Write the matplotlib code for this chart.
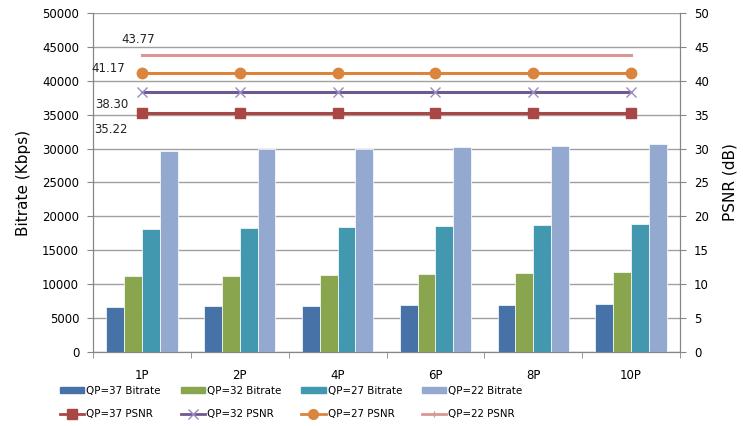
import matplotlib
matplotlib.use("Agg")
import matplotlib.pyplot as plt
from matplotlib.patches import Patch
from matplotlib.lines import Line2D
import numpy as np

categories = ["1P", "2P", "4P", "6P", "8P", "10P"]

# bitrate (Kbps) per QP
bitrate_qp37 = [6700, 6800, 6800, 7000, 7000, 7150]
bitrate_qp32 = [11150, 11200, 11300, 11480, 11630, 11820]
bitrate_qp27 = [18100, 18230, 18420, 18620, 18770, 18910]
bitrate_qp22 = [29700, 29950, 29950, 30250, 30400, 30700]

# PSNR (dB) per QP
psnr_qp37 = [35.22, 35.22, 35.22, 35.22, 35.22, 35.22]
psnr_qp32 = [38.30, 38.30, 38.30, 38.30, 38.30, 38.30]
psnr_qp27 = [41.17, 41.17, 41.17, 41.17, 41.17, 41.17]
psnr_qp22 = [43.77, 43.77, 43.77, 43.77, 43.77, 43.77]

bar_series = [
    ("QP=37 Bitrate", bitrate_qp37, "#4672A8"),
    ("QP=32 Bitrate", bitrate_qp32, "#89A54E"),
    ("QP=27 Bitrate", bitrate_qp27, "#4298AF"),
    ("QP=22 Bitrate", bitrate_qp22, "#93A9CF"),
]
# name, values, line colour, marker, marker colour, label offset, label align
line_series = [
    ("QP=37 PSNR", psnr_qp37, "#AA4643", "s", "#AA4643", (-10, -12), "right"),
    ("QP=32 PSNR", psnr_qp32, "#71588F", "x", "#9A8CC0", (-10, -9), "right"),
    ("QP=27 PSNR", psnr_qp27, "#DB843D", "o", "#DB843D", (-12, 3), "right"),
    ("QP=22 PSNR", psnr_qp22, "#D99694", None, None, (-3, 11), "center"),
]

plt.rcParams["font.family"] = "DejaVu Sans"
grey = "#868686"

fig = plt.figure(figsize=(7.43, 4.26), dpi=100)
ax = fig.add_axes([0.1252, 0.1737, 0.79, 0.7958])
ax2 = ax.twinx()

x = np.arange(len(categories))
w = 0.182
for i, (name, vals, col) in enumerate(bar_series):
    ax.bar(x + (i - 1.5) * w, vals, w, color=col, edgecolor="white",
           linewidth=0.5, label=name, zorder=3)

for name, vals, col, mk, mcol, off, ha in line_series:
    ax2.plot(x, vals, color=col, lw=2.2, marker=mk, markersize=7.5,
             markerfacecolor=mcol, markeredgecolor=mcol, markeredgewidth=1.0,
             label=name, zorder=4)
    ax2.annotate(f"{vals[0]:.2f}", (x[0], vals[0]), xytext=off,
                 textcoords="offset points", ha=ha, va="center",
                 fontsize=8.5, color="#222222")

ax.set_xlim(-0.5, len(categories) - 0.5)
ax.set_ylim(0, 50000)
ax.set_yticks(np.arange(0, 50001, 5000))
ax2.set_ylim(0, 50)
ax2.set_yticks(np.arange(0, 51, 5))

ax.set_xticks(x)
ax.set_xticklabels(categories)
ax.set_xticks(np.arange(-0.5, len(categories), 1), minor=True)
ax.tick_params(axis="x", which="major", length=0, pad=12, labelsize=8.5)
ax.tick_params(axis="x", which="minor", length=4, color=grey)
ax.tick_params(axis="y", length=4, color=grey, labelsize=8.5, pad=6)
ax2.tick_params(axis="y", length=4, color=grey, labelsize=8.5, pad=6)

ax.grid(axis="y", color="#A0A0A0", lw=1.0, zorder=0)
for a in (ax, ax2):
    a.spines["top"].set_visible(False)
    for s in ("left", "right", "bottom"):
        a.spines[s].set_color(grey)

ax.set_ylabel("Bitrate (Kbps)", fontsize=11, labelpad=8)
ax2.set_ylabel("PSNR (dB)", fontsize=11, labelpad=10)

bar_handles = [Patch(color=c, label=n) for n, _, c in bar_series]
line_handles = [Line2D([0], [0], color=c, lw=2, marker=m if m else "|",
                       markersize=7 if m else 4, markerfacecolor=mc or c,
                       markeredgecolor=mc or c, label=n)
                for n, _, c, m, mc, _, _ in line_series]
# legend fills column by column, so interleave to get bars on the top row
handles = [h for pair in zip(bar_handles, line_handles) for h in pair]
fig.legend(handles=handles, ncol=4, loc="lower left",
           bbox_to_anchor=(0.068, -0.005), frameon=False, fontsize=7.4,
           handlelength=2.4, handleheight=0.5, handletextpad=0.2,
           columnspacing=1.9, labelspacing=1.3)

fig.savefig("out.png", dpi=100)
